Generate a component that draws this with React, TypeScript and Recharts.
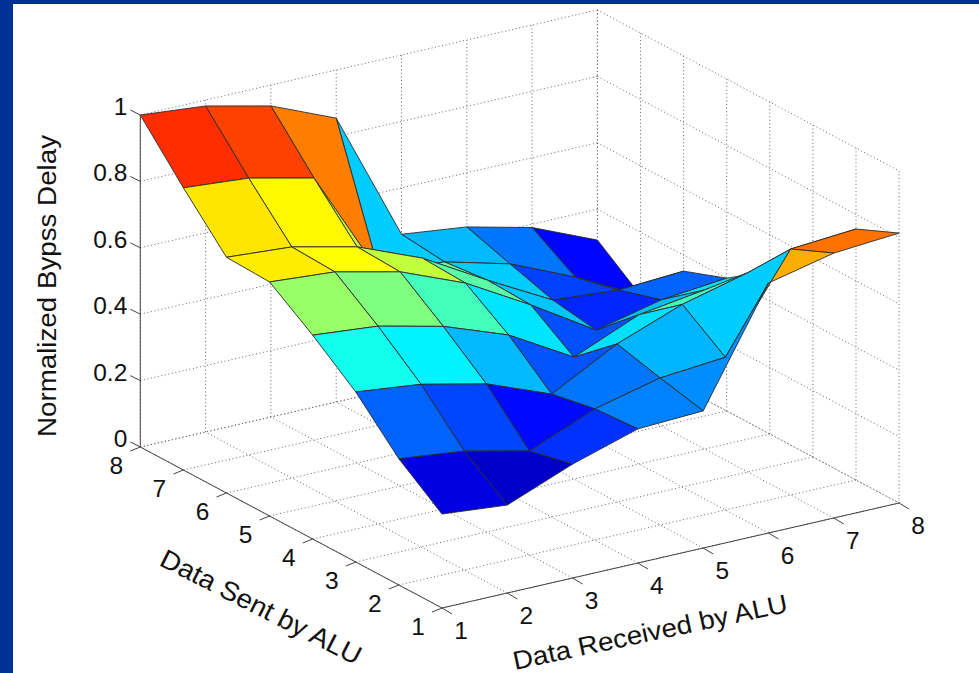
// App.tsx
import { ScatterChart, Scatter, XAxis, YAxis } from 'recharts'

const W = 979
const H = 673

const receivedTicks = [1, 2, 3, 4, 5, 6, 7, 8]
const sentTicks = [1, 2, 3, 4, 5, 6, 7, 8]
const delayTicks = [0, 0.2, 0.4, 0.6, 0.8, 1]

// normalized delay per "data sent" row, one value per "data received" tick
const sent1 = [0.283, 0.265, 0.343, 0.404, 0.413, 0.753, 0.798, 0.813]
const sent2 = [0.38, 0.358, 0.313, 0.395, 0.443, 0.46, 0.741, 0.756]
const sent3 = [0.512, 0.49, 0.446, 0.37, 0.476, 0.55, 0.6, 0.64]
const sent4 = [0.614, 0.596, 0.55, 0.479, 0.367, 0.45, 0.479, 0.49]
const sent5 = [0.705, 0.69, 0.645, 0.566, 0.455, 0.334, 0.38, 0.4]
const sent6 = [0.71, 0.696, 0.651, 0.572, 0.46, 0.355, 0.34, 0.352]
const sent7 = [0.85, 0.834, 0.789, 0.46, 0.446, 0.395, 0.31, 0.21]
const sent8 = [1, 0.982, 0.937, 0.855, 0.46, 0.437, 0.39, 0.307]
const delay = [sent1, sent2, sent3, sent4, sent5, sent6, sent7, sent8]

// colour limits of the jet map
const colorMin = 0.21
const colorMax = 0.98

// the 3D view: maps (received, sent, delay) onto the flat x/y axes of the chart
function project(r: number, s: number, z: number) {
  return {
    x: 442 + 65.3 * (r - 1) - 43.1 * (s - 1),
    y: 608 - 15 * (r - 1) - 23 * (s - 1) - 332 * z,
  }
}

function jet(z: number): string {
  const v = (z - colorMin) / (colorMax - colorMin)
  const ch = (c: number) => Math.round(255 * Math.max(0, Math.min(1, 1.5 - Math.abs(4 * v - c))))
  return `rgb(${ch(3)},${ch(2)},${ch(1)})`
}

type Pt = { x: number; y: number }

const noDot = () => <g />

function polygonLine(fill: string) {
  return (props: any) => (
    <polygon
      points={props.points.map((p: Pt) => `${p.x},${p.y}`).join(' ')}
      fill={fill}
      stroke="#2a2a2a"
      strokeWidth={0.9}
      strokeLinejoin="round"
    />
  )
}

function segment(key: string, a: Pt, b: Pt, stroke: string, dash?: string, width = 1) {
  return (
    <Scatter
      key={key}
      data={[a, b]}
      isAnimationActive={false}
      shape={noDot}
      line={{ stroke, strokeDasharray: dash, strokeWidth: width }}
    />
  )
}

function label(key: string, at: Pt, text: string, opts: { size: number; anchor?: string; angle?: number; length?: number }) {
  const shape = (p: any) => (
    <text
      x={p.cx}
      y={p.cy}
      fontFamily="'Liberation Sans', Arial, sans-serif"
      fontSize={opts.size}
      fill="#111"
      textAnchor={(opts.anchor ?? 'middle') as any}
      dominantBaseline="central"
      textLength={opts.length}
      lengthAdjust={opts.length ? 'spacingAndGlyphs' : undefined}
      transform={opts.angle ? `rotate(${opts.angle} ${p.cx} ${p.cy})` : undefined}
    >
      {text}
    </text>
  )
  return <Scatter key={key} data={[at]} isAnimationActive={false} shape={shape} />
}

const offset = (p: Pt, dx: number, dy: number) => ({ x: p.x + dx, y: p.y + dy })

// faces back to front, coloured from their lowest-index corner
const faces = receivedTicks
  .slice(0, 7)
  .flatMap((r) => sentTicks.slice(0, 7).map((s) => ({ r, s })))
  .sort((a, b) => 43 * b.r + 65 * b.s - (43 * a.r + 65 * a.s))

const GRID = '#666'
const DOTS = '1 2.6'
const AXIS = '#444'

export default function App() {
  const z = (r: number, s: number) => delay[s - 1][r - 1]
  return (
    <div style={{ position: 'absolute', left: 0, top: 0, width: W, height: H, background: '#003194', overflow: 'hidden' }}>
      <div style={{ position: 'absolute', left: 13, top: 4, width: W - 13, height: H - 4, background: '#fff' }} />
      <div style={{ position: 'absolute', left: 0, top: 0 }}>
        <ScatterChart width={W} height={H} margin={{ top: 0, right: 0, bottom: 0, left: 0 }}>
          <XAxis type="number" dataKey="x" domain={[0, W]} hide />
          <YAxis type="number" dataKey="y" domain={[0, H]} reversed hide />

          {receivedTicks.map((r) => segment(`fr${r}`, project(r, 1, 0), project(r, 8, 0), GRID, DOTS))}
          {sentTicks.map((s) => segment(`fs${s}`, project(1, s, 0), project(8, s, 0), GRID, DOTS))}
          {receivedTicks.map((r) => segment(`wr${r}`, project(r, 8, 0), project(r, 8, 1), GRID, DOTS))}
          {sentTicks.map((s) => segment(`ws${s}`, project(8, s, 0), project(8, s, 1), GRID, DOTS))}
          {delayTicks.map((d) => segment(`wa${d}`, project(1, 8, d), project(8, 8, d), GRID, DOTS))}
          {delayTicks.map((d) => segment(`wb${d}`, project(8, 8, d), project(8, 1, d), GRID, DOTS))}

          {segment('axisZ', project(1, 8, 0), project(1, 8, 1), AXIS)}
          {segment('axisS', project(1, 1, 0), project(1, 8, 0), AXIS)}
          {segment('axisR', project(1, 1, 0), project(8, 1, 0), AXIS)}
          {delayTicks.map((d) => segment(`tz${d}`, project(1, 8, d), offset(project(1, 8, d), -10, -5), AXIS))}
          {sentTicks.map((s) => segment(`ts${s}`, project(1, s, 0), offset(project(1, s, 0), -10, 4), AXIS))}
          {receivedTicks.map((r) => segment(`tr${r}`, project(r, 1, 0), offset(project(r, 1, 0), 10, 6), AXIS))}

          {faces.map(({ r, s }) => (
            <Scatter
              key={`q${r}-${s}`}
              data={[
                project(r, s, z(r, s)),
                project(r + 1, s, z(r + 1, s)),
                project(r + 1, s + 1, z(r + 1, s + 1)),
                project(r, s + 1, z(r, s + 1)),
              ]}
              isAnimationActive={false}
              shape={noDot}
              line={polygonLine(jet(z(r, s)))}
            />
          ))}

          {delayTicks.map((d) =>
            label(`lz${d}`, offset(project(1, 8, d), -13, -8.5), String(d), { size: 24.5, anchor: 'end' }),
          )}
          {sentTicks.map((s) => label(`ls${s}`, offset(project(1, s, 0), -24, 18), String(s), { size: 24.5 }))}
          {receivedTicks.map((r) => label(`lr${r}`, offset(project(r, 1, 0), 19, 22), String(r), { size: 24.5 }))}

          {label('titleZ', { x: 47, y: 286 }, 'Normalized Bypss Delay', { size: 26.5, angle: -90, length: 302 })}
          {label('titleS', { x: 261, y: 607 }, 'Data Sent by ALU', { size: 26.5, angle: 27, length: 222 })}
          {label('titleR', { x: 650, y: 632 }, 'Data Received by ALU', { size: 26, angle: -12, length: 280 })}
        </ScatterChart>
      </div>
    </div>
  )
}
